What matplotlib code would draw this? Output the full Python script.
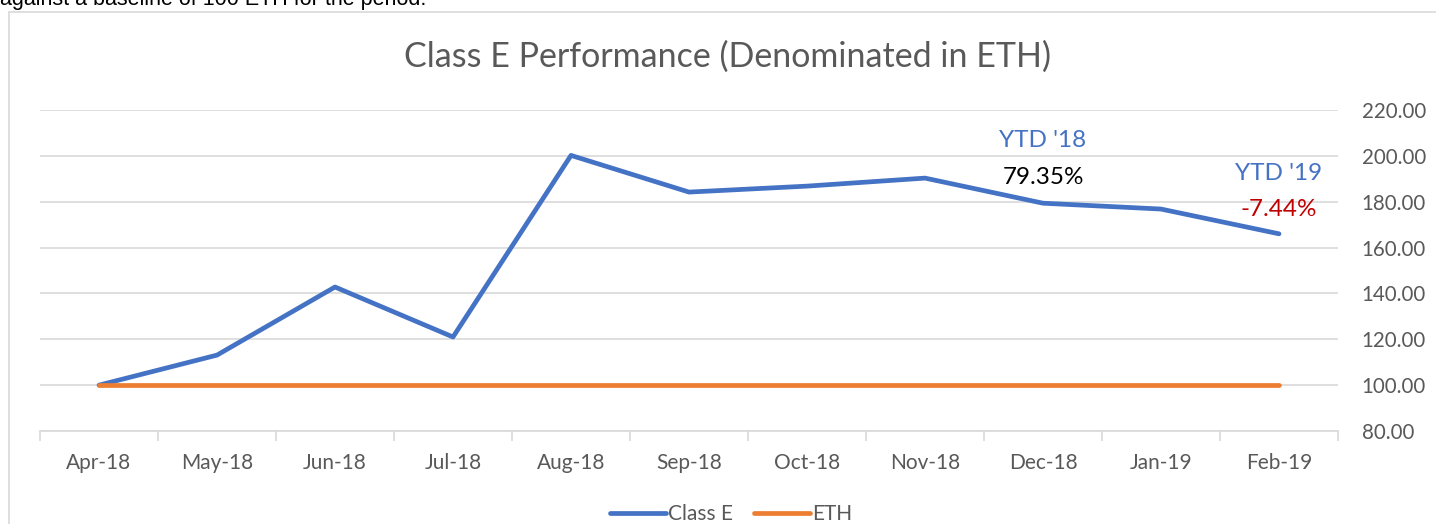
import numpy as np
import matplotlib.pyplot as plt
from matplotlib.patches import Rectangle

months = ['Apr-18', 'May-18', 'Jun-18', 'Jul-18', 'Aug-18', 'Sep-18',
          'Oct-18', 'Nov-18', 'Dec-18', 'Jan-19', 'Feb-19']
class_e = [100.0, 113.1, 142.8, 121.0, 200.2, 184.2, 186.8, 190.3, 179.35, 176.8, 166.0]
eth = [100.0] * 11
ytd_18 = "79.35%"
ytd_19 = "-7.44%"

plt.rcParams['font.family'] = ['Lato', 'DejaVu Sans']
W, H = 1436, 524
fig = plt.figure(figsize=(W / 100, H / 100), dpi=100)

# chart frame + clipped paragraph text above it
fig.patches.append(Rectangle((9 / W, -0.1), 1.2, 1 - 12 / H + 0.1, transform=fig.transFigure,
                             fill=False, edgecolor='#D9D9D9', linewidth=1.2))
fig.text(0, 1 - 5 / H, "against a baseline of 100 ETH for the period.", family='Liberation Sans',
         fontsize=15.5, va='baseline', ha='left', color='black')

ax = fig.add_axes([40 / W, 1 - 431 / H, 1298 / W, 321 / H])
x = np.arange(len(months))
ax.plot(x, class_e, color='#4472C4', lw=3.4, solid_capstyle='round', solid_joinstyle='round', label='Class E')
ax.plot(x, eth, color='#ED7D31', lw=3.4, solid_capstyle='round', label='ETH')

ax.set_xlim(-0.5, len(months) - 0.5)
ax.set_ylim(80, 220)
ax.set_yticks(np.arange(80, 221, 20))
ax.set_yticklabels([f"{v:.2f}" for v in np.arange(80, 221, 20)])
ax.yaxis.tick_right()
ax.tick_params(axis='y', length=0, pad=17, labelsize=14.8, labelcolor='#595959')
ax.grid(axis='y', color='#D9D9D9', lw=1.2)
ax.set_axisbelow(True)

ax.set_xticks(x)
ax.set_xticklabels(months)
ax.set_xticks(np.arange(-0.5, len(months), 1), minor=True)
ax.tick_params(axis='x', which='major', length=0, pad=16, labelsize=15, labelcolor='#595959')
ax.tick_params(axis='x', which='minor', length=7, width=1.2, color='#D9D9D9')

for s in ['top', 'left', 'right']:
    ax.spines[s].set_visible(False)
ax.spines['bottom'].set_color('#D9D9D9')
ax.spines['bottom'].set_linewidth(1.2)

fs = 17.5
ax.text(8, 206.5, "YTD '18", color='#4472C4', fontsize=fs, ha='center', va='center')
ax.text(8, 190.5, ytd_18, color='black', fontsize=fs, ha='center', va='center')
ax.text(10, 192.5, "YTD '19", color='#4472C4', fontsize=fs, ha='center', va='center')
ax.text(10, 176.8, ytd_19, color='#C00000', fontsize=fs, ha='center', va='center')

fig.text(728 / W, 1 - 57 / H, "Class E Performance (Denominated in ETH)", color='#595959',
         fontsize=24.5, ha='center', va='center')

fig.legend(loc='center', bbox_to_anchor=(731 / W, 1 - 514 / H), ncol=2, frameon=False,
           fontsize=15, labelcolor='#595959', handlelength=2.7, handletextpad=0.1,
           columnspacing=1.0)

fig.savefig('out.png', dpi=100)
